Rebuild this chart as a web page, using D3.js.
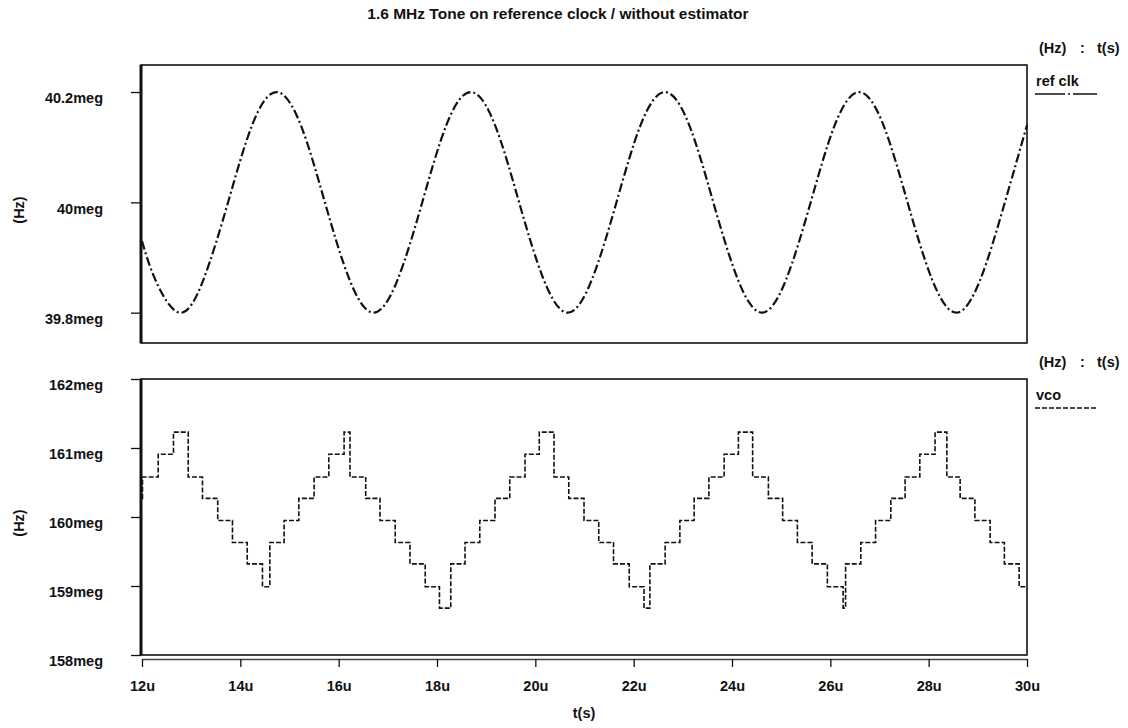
<!DOCTYPE html>
<html>
<head>
<meta charset="utf-8">
<script src="https://cdn.jsdelivr.net/npm/d3@7"></script>
<style>
  body { margin: 0; background: #fff; }
  text { font-family: "Liberation Sans", Arial, sans-serif; font-weight: bold; fill: #111; }
</style>
</head>
<body>
<div id="vis"></div>
<script>
// data (time in us, frequency in meg)
var refT = [12.0, 12.27, 12.76, 13.25, 13.75, 14.24, 14.735, 15.23, 15.72, 16.22, 16.71,
            17.2, 17.7, 18.19, 18.685, 19.18, 19.67, 20.17, 20.66, 21.15, 21.65, 22.14,
            22.635, 23.13, 23.62, 24.12, 24.61, 25.1, 25.6, 26.09, 26.585, 27.08, 27.57,
            28.07, 28.56, 29.05, 29.55, 30.0];
var refF = [39.93, 39.86, 39.8, 39.86, 40.0, 40.14, 40.2, 40.14, 40.0, 39.86, 39.8,
            39.86, 40.0, 40.14, 40.2, 40.14, 40.0, 39.86, 39.8, 39.86, 40.0, 40.14,
            40.2, 40.14, 40.0, 39.86, 39.8, 39.86, 40.0, 40.14, 40.2, 40.14, 40.0,
            39.86, 39.8, 39.86, 40.0, 40.14];

var vcoT = [12.0, 12.01, 12.33, 12.64, 12.94, 13.23, 13.54, 13.84, 14.14, 14.45, 14.6,
            14.89, 15.19, 15.5, 15.8, 16.11, 16.23, 16.55, 16.84, 17.15, 17.45, 17.76,
            18.05, 18.28, 18.57, 18.87, 19.18, 19.48, 19.79, 20.08, 20.38, 20.68, 20.99,
            21.29, 21.59, 21.91, 22.21, 22.33, 22.64, 22.94, 23.23, 23.53, 23.84, 24.13,
            24.42, 24.74, 25.03, 25.33, 25.63, 25.94, 26.26, 26.31, 26.62, 26.92, 27.23,
            27.52, 27.82, 28.13, 28.37, 28.64, 28.94, 29.25, 29.54, 29.84, 30.0];
var vcoF = [160.27, 160.58, 160.91, 161.23, 160.58, 160.27, 159.95, 159.63, 159.32, 158.99, 159.63,
            159.95, 160.27, 160.58, 160.91, 161.23, 160.58, 160.27, 159.95, 159.63, 159.32, 158.99,
            158.68, 159.32, 159.63, 159.95, 160.27, 160.58, 160.91, 161.23, 160.58, 160.27, 159.95,
            159.63, 159.32, 158.99, 158.68, 159.32, 159.63, 159.95, 160.27, 160.58, 160.91, 161.23,
            160.58, 160.27, 159.95, 159.63, 159.32, 158.99, 158.68, 159.32, 159.63, 159.95, 160.27,
            160.58, 160.91, 161.23, 160.58, 160.27, 159.95, 159.63, 159.32, 158.99, 158.99];

var xTicks = [12, 14, 16, 18, 20, 22, 24, 26, 28, 30];
var refTicks = [39.8, 40, 40.2];
var vcoTicks = [158, 159, 160, 161, 162];

var title = "1.6 MHz Tone on reference clock / without estimator";

// Layout Settings
var width = 1128, height = 728;
var left = 141, right = 1027;
var top1 = 65, bot1 = 343;
var top2 = 379, bot2 = 655;
var fs = "14.5px";

var svg = d3.select("#vis")
            .append("svg")
            .attr("width", width)
            .attr("height", height);

var x = d3.scaleLinear()
          .domain([12, 30])
          .range([left + 1, right]);

var y1 = d3.scaleLinear()
           .domain([39.745, 40.249])
           .range([bot1, top1]);

var y2 = d3.scaleLinear()
           .domain([158, 162])
           .range([bot2, top2]);

svg.append("text")
   .attr("x", 558)
   .attr("y", 19)
   .attr("text-anchor", "middle")
   .style("font-size", "15.5px")
   .text(title);

//////// panels ////////
function panel(y, y0, yb, ticks, legendY, name, dash) {
  var g = svg.append("g");

  g.append("rect")
   .attr("x", left)
   .attr("y", y0)
   .attr("width", right - left)
   .attr("height", yb - y0)
   .attr("fill", "none")
   .attr("stroke", "#111")
   .attr("stroke-width", 1.6);

  g.append("line")
   .attr("x1", left).attr("x2", left)
   .attr("y1", y0).attr("y2", yb)
   .attr("stroke", "#111")
   .attr("stroke-width", 3);

  var ax = g.append("g")
            .attr("transform", "translate(" + left + ",0)")
            .call(d3.axisLeft(y)
                    .tickValues(ticks)
                    .tickSize(10)
                    .tickPadding(28)
                    .tickFormat(function(d) { return d + "meg"; }));
  ax.select(".domain").remove();
  ax.selectAll("line").attr("stroke", "#111").attr("stroke-width", 1.3);
  ax.selectAll("text")
    .attr("dy", "0.75em")
    .style("font-size", fs)
    .style("font-family", "'Liberation Sans', Arial, sans-serif")
    .style("font-weight", "bold")
    .attr("fill", "#111");

  g.append("text")
   .attr("transform", "translate(24," + ((y0 + yb) / 2 + 6) + ") rotate(-90)")
   .attr("text-anchor", "middle")
   .style("font-size", fs)
   .text("(Hz)");

  // unit header on the right
  g.append("text").attr("x", 1039).attr("y", legendY - 41).style("font-size", fs).text("(Hz)");
  g.append("text").attr("x", 1080).attr("y", legendY - 41).style("font-size", fs).text(":");
  g.append("text").attr("x", 1097).attr("y", legendY - 41).style("font-size", fs).text("t(s)");

  g.append("text")
   .attr("x", 1036)
   .attr("y", legendY - 8)
   .style("font-size", fs)
   .text(name);

  g.append("line")
   .attr("x1", 1035).attr("x2", 1097)
   .attr("y1", legendY).attr("y2", legendY)
   .attr("stroke", "#111")
   .attr("stroke-width", 1.3)
   .attr("stroke-dasharray", dash);
}

panel(y1, top1, bot1, refTicks, 94, "ref clk", "30,3,2,3");
panel(y2, top2, bot2, vcoTicks, 408, "vco", "5,2");

//////// x axis under the lower panel ////////
var xa = svg.append("g")
            .attr("transform", "translate(0," + (bot2 + 4) + ")")
            .call(d3.axisBottom(x)
                    .tickValues(xTicks)
                    .tickSize(8)
                    .tickSizeOuter(0)
                    .tickPadding(14)
                    .tickFormat(function(d) { return d + "u"; }));
xa.select(".domain").attr("stroke", "#444").attr("stroke-width", 1.6);
xa.selectAll("line").attr("stroke", "#111").attr("stroke-width", 1.3);
xa.selectAll("text")
  .style("font-size", fs)
  .style("font-family", "'Liberation Sans', Arial, sans-serif")
  .style("font-weight", "bold")
  .attr("fill", "#111");

svg.append("text")
   .attr("x", 584)
   .attr("y", 718)
   .attr("text-anchor", "middle")
   .style("font-size", fs)
   .text("t(s)");

//////// curves ////////
var refData = refT.map(function(t, i) { return {t: t, f: refF[i]}; });
var vcoData = vcoT.map(function(t, i) { return {t: t, f: vcoF[i]}; });

var refLine = d3.line()
                .x(function(d) { return x(d.t); })
                .y(function(d) { return y1(d.f); })
                .curve(d3.curveNatural);

var vcoLine = d3.line()
                .x(function(d) { return x(d.t); })
                .y(function(d) { return y2(d.f); })
                .curve(d3.curveStepAfter);

svg.append("path")
   .datum(refData)
   .attr("d", refLine)
   .attr("fill", "none")
   .attr("stroke", "#111")
   .attr("stroke-width", 2.2)
   .attr("stroke-dasharray", "9,3,2,3");

svg.append("path")
   .datum(vcoData)
   .attr("d", vcoLine)
   .attr("fill", "none")
   .attr("stroke", "#111")
   .attr("stroke-width", 1.6)
   .attr("stroke-dasharray", "5,2");
</script>
</body>
</html>
